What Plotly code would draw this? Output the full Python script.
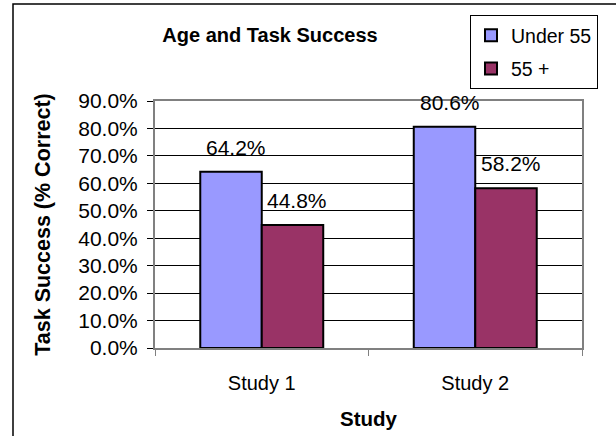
import plotly.graph_objects as go

categories = ["Study 1", "Study 2"]
series_names = ["Under 55", "55 +"]
under55 = [64.2, 80.6]
over55 = [44.8, 58.2]
y_ticks = [0, 10, 20, 30, 40, 50, 60, 70, 80, 90]
y_tick_labels = [f"{v:.1f}%" for v in y_ticks]
colors = ["#9999FF", "#993366"]

W, H = 616, 436
L, R, T, B = 155, 34, 101, 88
pw, ph = W - L - R, H - T - B

FONT = "Arial, Liberation Sans, sans-serif"

fig = go.Figure()
for name, vals, col in zip(series_names, [under55, over55], colors):
    fig.add_trace(go.Bar(
        name=name, x=categories, y=vals,
        marker=dict(color=col, line=dict(color="black", width=2)),
        legendgroup=name,
    ))

# data labels
bar_px = pw / 2 * (1 - 0.424) / 2
for i, vals in enumerate([under55, over55]):
    off = (i - 0.5) * bar_px
    for c, v in zip(categories, vals):
        fig.add_annotation(x=c, y=v, text=f"{v:.1f}%", showarrow=False,
                           xanchor="center", yanchor="bottom",
                           xshift=off + 5, yshift=11,
                           font=dict(family=FONT, size=21, color="black"))

# outer chart border
fig.add_shape(type="rect", xref="paper", yref="paper",
              x0=(13 - L) / pw, x1=(W + 10 - L) / pw,
              y0=-(B + 10) / ph, y1=1 + (T - 4) / ph,
              line=dict(color="black", width=1.5), fillcolor="rgba(0,0,0,0)")

fig.update_layout(
    width=W, height=H,
    margin=dict(l=L, r=R, t=T, b=B, autoexpand=False),
    paper_bgcolor="white", plot_bgcolor="white",
    font=dict(family=FONT, size=20, color="black"),
    barmode="group", bargap=0.424, bargroupgap=0,
    title=dict(text="<b>Age and Task Success</b>", x=270 / W, xanchor="center",
               y=1 - 35 / H, yanchor="middle", yref="container",
               font=dict(family=FONT, size=20, color="black")),
    showlegend=True,
    legend=dict(x=(470 - L) / pw, y=1 + (T - 15) / ph, xanchor="left", yanchor="top",
                bordercolor="black", borderwidth=1, bgcolor="white",
                font=dict(family=FONT, size=19.5, color="black"),
                traceorder="grouped", tracegroupgap=5, itemwidth=30),
    xaxis=dict(
        showline=True, linecolor="#808080", linewidth=2, mirror=True,
        ticks="outside", tickson="boundaries", ticklen=6, tickcolor="#808080",
        showgrid=False, ticklabelstandoff=16,
        tickfont=dict(family=FONT, size=20),
        title=dict(text="<b>Study</b>", font=dict(family=FONT, size=20.5), standoff=19),
    ),
    yaxis=dict(
        range=[0, 90], tickvals=y_ticks, ticktext=y_tick_labels,
        showline=True, linecolor="#808080", linewidth=2, mirror=True,
        ticks="outside", ticklen=6, tickcolor="black",
        showgrid=True, gridcolor="black", gridwidth=1, zeroline=False,
        ticklabelstandoff=5,
        tickfont=dict(family=FONT, size=21),
        title=dict(text="<b>Task Success (% Correct)</b>", font=dict(family=FONT, size=21.5), standoff=22),
    ),
)

fig.write_html("out.html", config={"displayModeBar": False},
               post_script="document.body.style.margin='0px';")
